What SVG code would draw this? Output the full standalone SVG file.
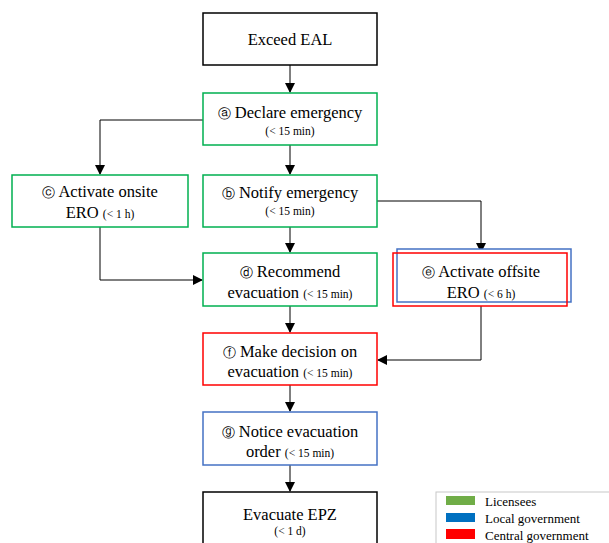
<svg xmlns="http://www.w3.org/2000/svg" width="609" height="543" viewBox="0 0 609 543">
<defs>
<marker id="ah" markerWidth="10" markerHeight="10" refX="9" refY="5" orient="auto" markerUnits="userSpaceOnUse">
<path d="M0,0 L10,5 L0,10 Z" fill="#000"/>
</marker>
<style>
.box{fill:#fff;stroke-width:1.5}
.g{stroke:#00b050}
.b{stroke:#4472c4}
.r{stroke:#ff0000}
.k{stroke:#000}
.t{font-family:'Liberation Serif','Times New Roman','DejaVu Serif',serif;font-size:16.5px;fill:#000;text-anchor:middle}
.s{font-size:11.5px}
.c{font-family:'DejaVu Sans',sans-serif;font-size:13px}
.lg{font-family:'Liberation Serif','DejaVu Serif',serif;font-size:13px;fill:#000}
.ln{fill:none;stroke:#000;stroke-width:1}
</style>
</defs>
<rect width="609" height="543" fill="#fff"/>
<g id="connectors">
<path class="ln" d="M290,65 V92" marker-end="url(#ah)"/>
<path class="ln" d="M290,145 V174" marker-end="url(#ah)"/>
<path class="ln" d="M203,120 H100 V174" marker-end="url(#ah)"/>
<path class="ln" d="M290,227 V252" marker-end="url(#ah)"/>
<path class="ln" d="M377,201 H481 V252" marker-end="url(#ah)"/>
<path class="ln" d="M100,227 V280 H202" marker-end="url(#ah)"/>
<path class="ln" d="M290,306 V332" marker-end="url(#ah)"/>
<path class="ln" d="M481,306 V360 H378" marker-end="url(#ah)"/>
<path class="ln" d="M290,385 V411" marker-end="url(#ah)"/>
<path class="ln" d="M290,465 V491" marker-end="url(#ah)"/>
</g>
<g id="exceed">
<rect class="box k" x="203" y="13" width="174" height="52"/>
<text class="t" x="290" y="45">Exceed EAL</text>
</g>
<g id="declare">
<rect class="box g" x="203" y="93" width="174" height="52"/>
<text class="t" x="290" y="118"><tspan class="c">ⓐ</tspan> Declare emergency</text>
<text class="t s" x="290" y="135">(&lt; 15 min)</text>
</g>
<g id="onsite">
<rect class="box g" x="12" y="175" width="176" height="52"/>
<text class="t" x="100" y="197"><tspan class="c">ⓒ</tspan> Activate onsite</text>
<text class="t" x="100" y="218">ERO <tspan class="s">(&lt; 1 h)</tspan></text>
</g>
<g id="notify">
<rect class="box g" x="203" y="175" width="174" height="52"/>
<text class="t" x="290" y="198"><tspan class="c">ⓑ</tspan> Notify emergency</text>
<text class="t s" x="290" y="215">(&lt; 15 min)</text>
</g>
<g id="recommend">
<rect class="box g" x="203" y="253" width="174" height="53"/>
<text class="t" x="290" y="277"><tspan class="c">ⓓ</tspan> Recommend</text>
<text class="t" x="290" y="298">evacuation <tspan class="s">(&lt; 15 min)</tspan></text>
</g>
<g id="offsite">
<rect class="box b" x="397" y="249" width="174" height="53"/>
<rect fill="none" stroke="#ff0000" stroke-width="1.5" x="393" y="253" width="174" height="53"/>
<text class="t" x="481" y="277"><tspan class="c">ⓔ</tspan> Activate offsite</text>
<text class="t" x="481" y="298">ERO <tspan class="s">(&lt; 6 h)</tspan></text>
</g>
<g id="decision">
<rect class="box r" x="203" y="333" width="174" height="52"/>
<text class="t" x="290" y="357"><tspan class="c">ⓕ</tspan> Make decision on</text>
<text class="t" x="290" y="377">evacuation <tspan class="s">(&lt; 15 min)</tspan></text>
</g>
<g id="notice">
<rect class="box b" x="203" y="412" width="174" height="53"/>
<text class="t" x="290" y="437"><tspan class="c">ⓖ</tspan> Notice evacuation</text>
<text class="t" x="290" y="457">order <tspan class="s">(&lt; 15 min)</tspan></text>
</g>
<g id="evacuate">
<rect class="box k" x="203" y="492" width="174" height="60"/>
<text class="t" x="290" y="520">Evacuate EPZ</text>
<text class="t s" x="290" y="535">(&lt; 1 d)</text>
</g>
<g id="legend">
<rect x="436" y="492" width="180" height="60" fill="#fff" stroke="#c8c8c8" stroke-width="1"/>
<rect x="446" y="496" width="29" height="9" fill="#70ad47"/>
<rect x="446" y="513" width="29" height="9" fill="#0070c0"/>
<rect x="446" y="529" width="29" height="10" fill="#ff0000"/>
<text class="lg" x="485" y="506">Licensees</text>
<text class="lg" x="485" y="523">Local government</text>
<text class="lg" x="485" y="540">Central government</text>
</g>
</svg>
